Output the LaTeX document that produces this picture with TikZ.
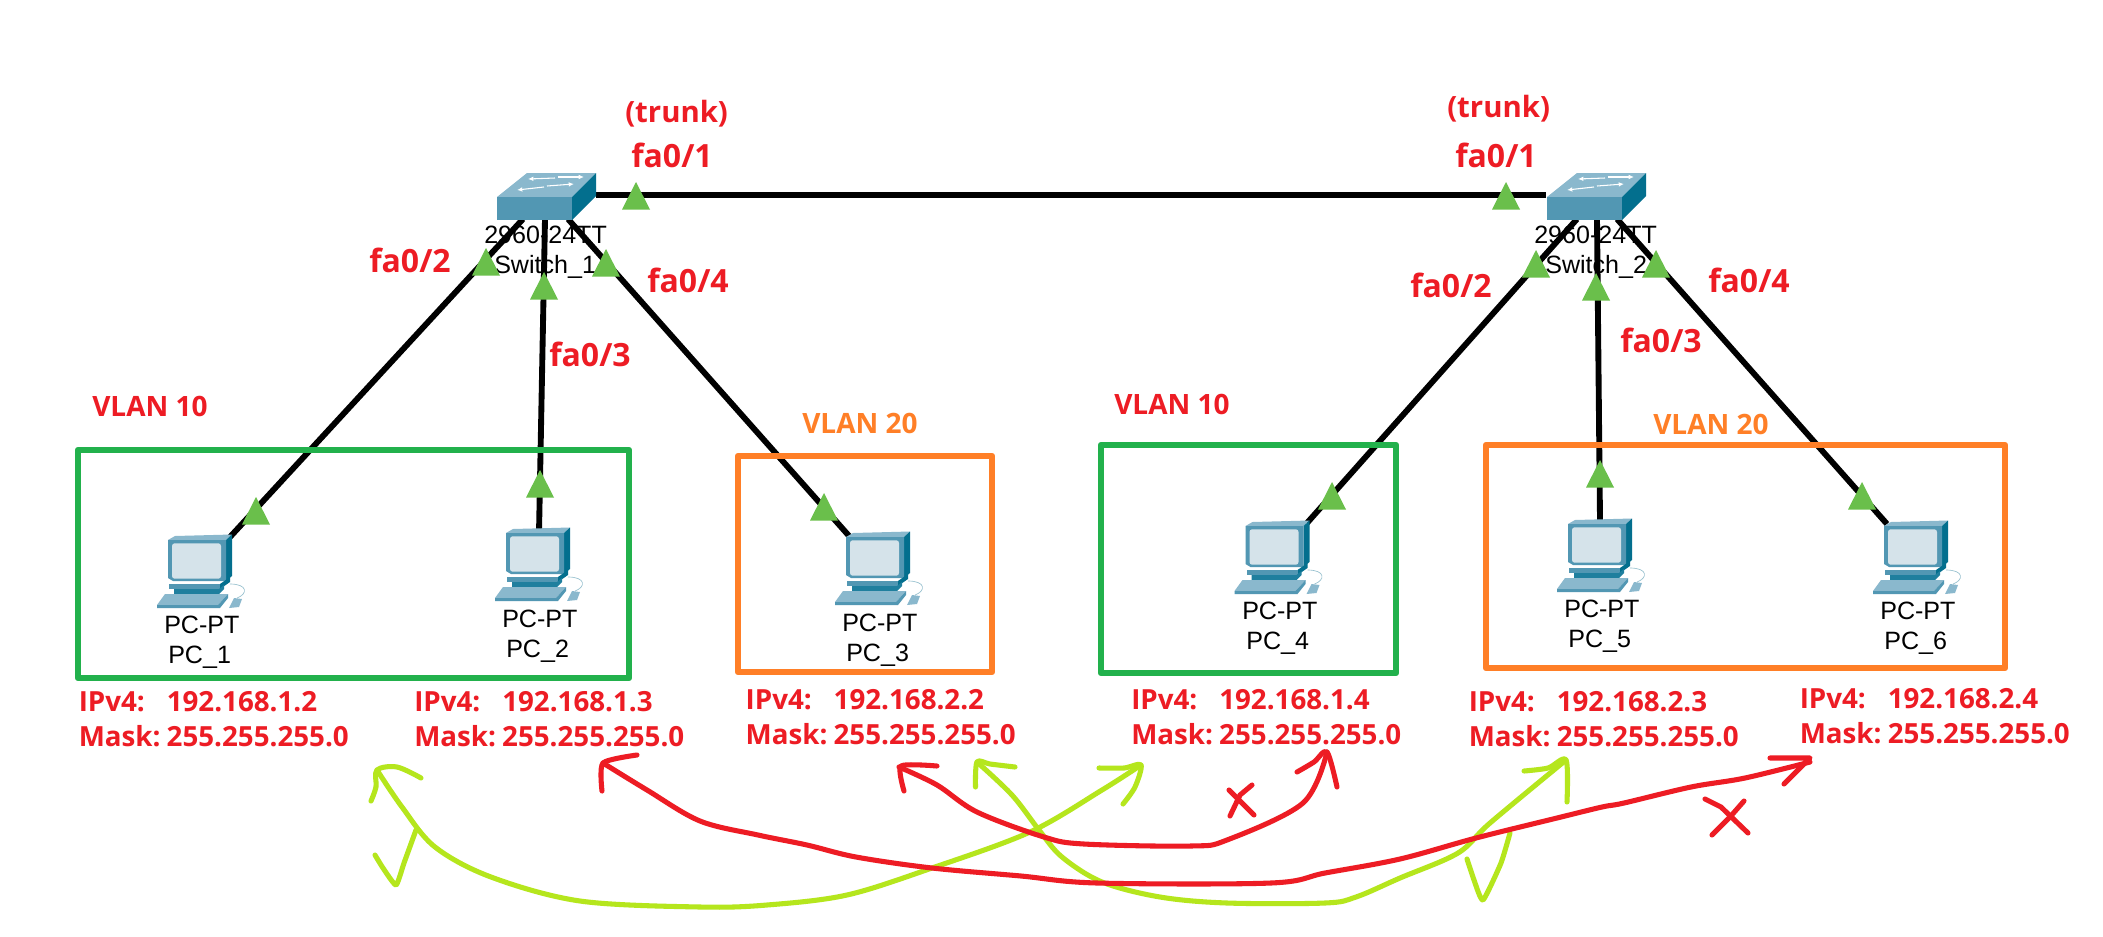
\documentclass[tikz,border=0pt]{standalone}
\usepackage{fontspec}
\setmainfont{Open Sans}
\newfontfamily\pcfont{Liberation Sans}
\usetikzlibrary{arrows.meta}
\definecolor{rd}{HTML}{ED1C24}
\definecolor{orng}{HTML}{FF7F27}
\definecolor{grn}{HTML}{22B14C}
\definecolor{lime}{HTML}{B5E61D}
\definecolor{tri}{HTML}{6ABF4B}
\definecolor{cfront}{HTML}{5297B3}
\definecolor{ctop}{HTML}{8AB8CD}
\definecolor{cside}{HTML}{036F8E}
\definecolor{cscreen}{HTML}{D5E3EA}
\definecolor{cdark}{HTML}{1F7F9E}
\tikzset{
  cable/.style={line width=4.4pt,black},
  vbox/.style={line width=4.9pt,line join=round},
  devtext/.style={anchor=base west,inner sep=0pt,font=\pcfont\fontsize{18.8}{22}\selectfont},
  portlab/.style={anchor=base west,inner sep=0pt,text=rd,font=\bfseries\fontsize{24}{28}\selectfont},
  trunklab/.style={anchor=base west,inner sep=0pt,text=rd,font=\bfseries\fontsize{22}{26}\selectfont},
  vlanlab/.style={anchor=base west,inner sep=0pt,text=rd,font=\bfseries\fontsize{21}{25}\selectfont},
  iplab/.style={anchor=base west,inner sep=0pt,text=rd,align=left,font=\bfseries\fontsize{20.8}{26.2}\selectfont},
  link/.style={fill=tri,draw=none},
  pen/.style={line width=3.8pt,line cap=round,line join=round},
  swicon/.pic={
    \fill[ctop] (0,25)--(30,1)--(99,1)--(75,25)--cycle;
    \fill[cfront] (0,25)--(75,25)--(75,48)--(0,48)--cycle;
    \fill[cside] (75,25)--(99,1)--(99,24)--(75,48)--cycle;
    \begin{scope}[white,line width=.8pt,-{Latex[length=4pt,width=3.5pt]}]
      \draw (58,6)--(31,7); \draw (61,5)--(87,5);
      \draw (50,14)--(77,12); \draw (47,15)--(20,18);
    \end{scope}
  },
  pcicon/.pic={
    \draw[cscreen!70!cside,line width=.5pt] (62,44) .. controls (80,44) and (80,54) .. (69,58);
    \fill[ctop] (0,0)--(7,-4)--(64,-5.5)--(58,0)--cycle;
    \fill[cside] (58,0)--(64,-5.5)--(64,36)--(58,41)--cycle;
    \fill[cfront] (0,0)--(58,0)--(58,41)--(5,41)--(0,38)--cycle;
    \fill[cscreen,rounded corners=2pt] (4,3.3) rectangle (53,38.7);
    \fill[cside] (52,44)--(62,37)--(62,42)--(52,49)--cycle;
    \fill[cfront] (1,44)--(52,44)--(52,49)--(1,49)--cycle;
    \fill[cdark] (6,49)--(51,49)--(56,45)--(56,49)--(51,54)--(6,54)--cycle;
    \fill[ctop] (-11,65)--(50,65)--(60,54)--(-3,54)--cycle;
    \fill[cfront] (-11,65)--(50,65)--(60,54)--(60,58)--(52,68)--(-11,68)--cycle;
    \fill[ctop] (61,68)--(71,67)--(74,59)--(66,58)--cycle;
  },
}
\begin{document}
\begin{tikzpicture}[x=0.75pt,y=-0.75pt]
\useasboundingbox (0,0) rectangle (2103,936);
\fill[white] (0,0) rectangle (2103,936);

% cable ends
\coordinate (s1r) at (596,195);  \coordinate (s2l) at (1546,195);
\coordinate (s1a) at (523,219);  \coordinate (s1b) at (545,219);  \coordinate (s1c) at (568,219);
\coordinate (s2a) at (1577,219); \coordinate (s2b) at (1597,219); \coordinate (s2c) at (1617,219);
\coordinate (pc1) at (230,537);  \coordinate (pc2) at (539,533);  \coordinate (pc3) at (850,537);
\coordinate (pc4) at (1307,523); \coordinate (pc5) at (1600,520); \coordinate (pc6) at (1887,524);

\draw[cable] (s1r)--(s2l);
\draw[cable] (s1a)--(pc1); \draw[cable] (s1b)--(pc2); \draw[cable] (s1c)--(pc3);
\draw[cable] (s2a)--(pc4); \draw[cable] (s2b)--(pc5); \draw[cable] (s2c)--(pc6);

% icons
\pic at (497,172) {swicon};
\pic at (1547,172) {swicon};
\pic at (168,540) {pcicon};
\pic at (506,533) {pcicon};
\pic at (846,537) {pcicon};
\pic at (1245.5,526) {pcicon};
\pic at (1568,524) {pcicon};
\pic at (1884,526) {pcicon};

% device labels
\node[devtext] (sw1m) at (484,243) {2960-24TT};
\node[devtext] (sw1n) at (494,273) {Switch\_1};
\node[devtext] (sw2m) at (1534,243) {2960-24TT};
\node[devtext] (sw2n) at (1545,273) {Switch\_2};
\node[devtext] (pc1m) at (164,633) {PC-PT};
\node[devtext] (pc1n) at (168,663) {PC\_1};
\node[devtext] (pc2m) at (502,627) {PC-PT};
\node[devtext] (pc2n) at (506,657) {PC\_2};
\node[devtext] (pc3m) at (842,631) {PC-PT};
\node[devtext] (pc3n) at (846,661) {PC\_3};
\node[devtext] (pc4m) at (1242,619) {PC-PT};
\node[devtext] (pc4n) at (1246,649) {PC\_4};
\node[devtext] (pc5m) at (1564,617) {PC-PT};
\node[devtext] (pc5n) at (1568,647) {PC\_5};
\node[devtext] (pc6m) at (1880,619) {PC-PT};
\node[devtext] (pc6n) at (1884,649) {PC\_6};

% link lights
\foreach \ax/\ay in {636/182,486/248,544/272,606/249,1506/182,1536/250,1596/273,1656/250,
                     256/497,540/470,824/493,1332/482,1600/460,1862/482}
  \fill[link] (\ax,\ay)--(\ax+14,\ay+27.5)--(\ax-14,\ay+27.5)--cycle;

% VLAN frames
\draw[vbox,grn] (78,450) rectangle (629,678);
\draw[vbox,orng] (738,456) rectangle (992,672);
\draw[vbox,grn] (1101,445) rectangle (1396,673);
\draw[vbox,orng] (1486,445) rectangle (2005,668);

% port labels
\node[trunklab] (t1) at (625,122) {(trunk)};
\node[trunklab] (t2) at (1447,117) {(trunk)};
\node[portlab] (a1) at (631,167) {fa0/1};
\node[portlab] (a2) at (369,272) {fa0/2};
\node[portlab] (a3) at (549,366) {fa0/3};
\node[portlab] (a4) at (647,292) {fa0/4};
\node[portlab] (b1) at (1455,167) {fa0/1};
\node[portlab] (b2) at (1410,297) {fa0/2};
\node[portlab] (b3) at (1620,352) {fa0/3};
\node[portlab] (b4) at (1708,292) {fa0/4};

% VLAN labels
\node[vlanlab] (v1) at (92,416) {VLAN 10};
\node[vlanlab,text=orng] (v2) at (802,433) {VLAN 20};
\node[vlanlab] (v3) at (1114,414) {VLAN 10};
\node[vlanlab,text=orng] (v4) at (1653,434) {VLAN 20};

% addresses
\newcommand{\ipl}[2]{\makebox[66pt][l]{IPv4:}#1\\\makebox[66pt][l]{Mask:}#2}
\node[iplab] (ip1) at (78.5,746.7) {\ipl{192.168.1.2}{255.255.255.0}};
\node[iplab] (ip2) at (414,746.7) {\ipl{192.168.1.3}{255.255.255.0}};
\node[iplab] (ip3) at (745.4,744) {\ipl{192.168.2.2}{255.255.255.0}};
\node[iplab] (ip4) at (1131,744) {\ipl{192.168.1.4}{255.255.255.0}};
\node[iplab] (ip5) at (1468.5,746.7) {\ipl{192.168.2.3}{255.255.255.0}};
\node[iplab] (ip6) at (1799.5,743) {\ipl{192.168.2.4}{255.255.255.0}};

% hand-drawn arrows
\coordinate (g1) at (377,770);  \coordinate (g2) at (1141,765);
\coordinate (g3) at (977,762);  \coordinate (g4) at (1566,760);
\coordinate (r1) at (603,763);  \coordinate (r2) at (1810,762);
\coordinate (r3) at (899,767);  \coordinate (r4) at (1327,752);

\draw[pen,lime] plot[smooth,tension=.55] coordinates {(g1) (402,807) (435,847) (491,877) (580,901) (700,907) (767,905) (847,895) (932,868) (1030,832) (1102,790) (g2)};
\draw[pen,lime] plot[smooth,tension=.55] coordinates {(421,778) (397,767) (g1) (376,787) (371,801)};
\draw[pen,lime] plot[smooth,tension=.5] coordinates {(1099,768) (1124,768) (g2) (1135,787) (1123,804)};
\draw[pen,lime] plot[smooth,tension=.3] coordinates {(375,855) (383,868) (396,885) (404,863) (416,830)};

\draw[pen,lime] plot[smooth,tension=.55] coordinates {(g3) (1012,795) (1039,830) (1062,857) (1102,882) (1160,897) (1227,903) (1325,903) (1356,897) (1400,878) (1458,853) (1490,823) (g4)};
\draw[pen,lime] plot[smooth,tension=.5] coordinates {(1015,767) (990,764) (g3) (975.5,787)};
\draw[pen,lime] plot[smooth,tension=.5] coordinates {(1524,771) (1548,768) (g4) (1567,802)};
\draw[pen,lime] plot[smooth,tension=.3] coordinates {(1467,859) (1474,880) (1483,900) (1501,863) (1510,833)};

\draw[pen,rd] plot[smooth,tension=.55] coordinates {(r1) (647,790) (700,821) (758,835) (807,845) (856,857) (932,868) (1021,876) (1097,883) (1271,883) (1325,873) (1400,859) (1476,838) (1557,818) (1602,807) (1624,803) (1691,787) (1745,778) (r2)};
\draw[pen,rd] plot[smooth,tension=.4] coordinates {(637,755) (r1) (602,791)};
\draw[pen,rd] (1770,758) -- (1810,758) -- (1784,784);

\draw[pen,rd] plot[smooth,tension=.55] coordinates {(r3) (937,785) (977,812) (1044,837) (1084,844) (1191,846) (1227,840) (1303,803) (r4)};
\draw[pen,rd] plot[smooth,tension=.4] coordinates {(937,766) (901,766) (904,791)};
\draw[pen,rd] plot[smooth,tension=.5] coordinates {(1297,772) (1314,762) (r4) (1337,787)};

\draw[pen,rd] (1229,790)--(1254,815);
\draw[pen,rd] (1252,785)--(1240,795)--(1230,816);
\draw[pen,rd] (1705,799)--(1721,807)--(1748,833);
\draw[pen,rd] (1744,801)--(1730,817)--(1712,835);
\end{tikzpicture}
\end{document}
